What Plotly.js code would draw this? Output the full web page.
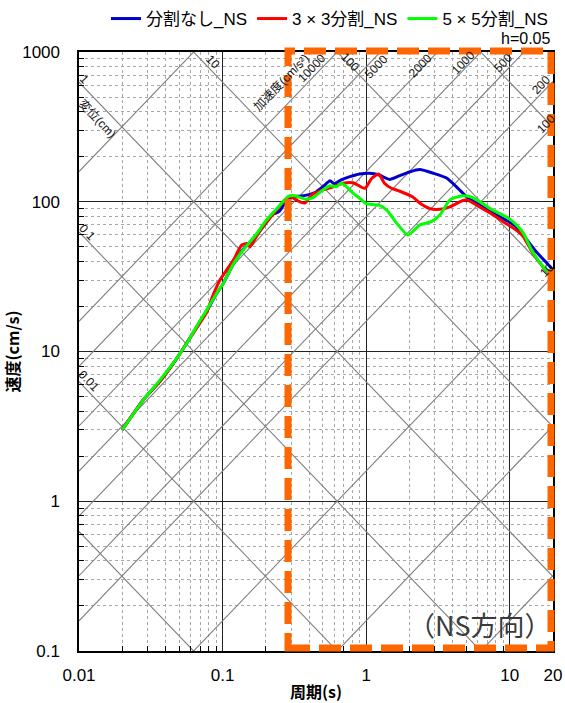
<!DOCTYPE html>
<html><head><meta charset="utf-8">
<script src="https://cdn.plot.ly/plotly-3.0.1.min.js"></script>
<style>html,body{margin:0;padding:0;background:#fff}</style>
</head><body><div id="chart" style="width:565px;height:703px"></div>
<script>
// ---- data ----
const seriesNames = ['分割なし_NS', '3 × 3分割_NS', '5 × 5分割_NS'];
const seriesColors = ['#0000CC', '#FF0000', '#00FF00'];

const periodNone = [0.02,0.028,0.037,0.048,0.056,0.068,0.078,0.09,0.1,0.12,0.136,0.15,0.165,0.18,0.2,0.22,0.235,0.25,0.27,0.29,0.31,0.345,0.405,0.44,0.5,0.56,0.6,0.67,0.77,0.9,1.05,1.23,1.45,1.7,2.0,2.36,2.94,3.63,4.36,5.0,5.86,7.3,9.5,11.1,13.1,15.4,18.1,20];
const svNone     = [3.0,4.74,6.4,9.0,11.3,15.3,18.8,24,28,39,47,52,56,63,72,82,84,87,97,104,108,109,112,115,126,138,132,140,147,153,155,151,141,149,158,164,155,144,123,108,98,86,75,68,56,46,39,35];

const period3x3 = [0.02,0.028,0.037,0.048,0.056,0.068,0.078,0.084,0.096,0.119,0.136,0.148,0.155,0.177,0.208,0.238,0.265,0.295,0.345,0.375,0.416,0.5,0.59,0.69,0.81,0.98,1.09,1.22,1.34,1.5,1.7,2.1,2.36,2.77,3.26,3.83,4.5,5.0,5.86,7.3,9.0,11.1,12.4,14.5,17,20];
const sv3x3     = [3.0,4.74,6.4,9.0,11.3,15.0,18.5,22.6,30,40.8,51.4,52.7,50,61.5,75.5,88,100,108,100,98,111,120,126,133,134,123,143,153,133,123,118,108,98,90,89,92.5,100,103,95,84,73.6,64.7,58.6,45.3,36.8,31];

const period5x5 = [0.02,0.028,0.0367,0.0479,0.0562,0.0678,0.0775,0.091,0.1,0.12,0.139,0.17,0.202,0.251,0.284,0.31,0.345,0.38,0.43,0.5,0.56,0.62,0.67,0.73,0.81,0.93,1.0,1.23,1.39,1.63,1.96,2.36,2.84,3.26,3.83,4.5,5.3,6.2,7.6,9.5,10.8,12.4,14.2,16.3,20];
const sv5x5     = [3.0,4.74,6.46,9.0,11.3,15.4,18.9,24.5,28,39,47.6,60,75.5,95,108,110,107,104,107,120,128,126,133,126,114,103,97,95,88,72,60,70,73.6,81.5,103,109,108,100,88,79,72,62,47.6,38.9,31];

const xTickVals = [0.01, 0.1, 1, 10, 20];
const xTickText = ['0.01', '0.1', '1', '10', '20'];
const yTickVals = [0.1, 1, 10, 100, 1000];
const yTickText = ['0.1', '1', '10', '100', '1000'];

// tripartite guide lines
const accelLines = [0.1, 1, 10, 100, 200, 500, 1000, 2000, 5000, 10000, 100000]; // cm/s^2
const dispLines  = [0.001, 0.01, 0.1, 1, 10, 100, 1000];                      // cm
const periodSpan = [0.01, 20];

// ---- build ----
const TWO_PI = 2 * Math.PI;
const traces = [];
const guide = {color: '#7E7E7E', width: 1.1};
accelLines.forEach(a => traces.push({x: periodSpan, y: periodSpan.map(t => a * t / TWO_PI), mode: 'lines', line: guide, showlegend: false, hoverinfo: 'skip'}));
dispLines.forEach(d => traces.push({x: periodSpan, y: periodSpan.map(t => TWO_PI * d / t), mode: 'lines', line: guide, showlegend: false, hoverinfo: 'skip'}));

const seriesX = [periodNone, period3x3, period5x5];
const seriesY = [svNone, sv3x3, sv5x5];
seriesNames.forEach((n, i) => traces.push({x: seriesX[i], y: seriesY[i], name: n, mode: 'lines', line: {color: seriesColors[i], width: 3, shape: 'spline', smoothing: 0.6}}));

function minorVals(lo, hi) { const v = []; for (let e = lo; e < hi; e++) for (let m = 2; m <= 9; m++) v.push(m * Math.pow(10, e)); return v; }

const plotL = 79, plotR = 553, plotT = 52, plotB = 651;
const px = x => (x - plotL) / (plotR - plotL);
const py = y => (plotB - y) / (plotB - plotT);

const FONT = 'Liberation Sans, Arial, Noto Sans CJK JP, sans-serif';
const JFONT = 'Noto Sans CJK JP, Liberation Sans, sans-serif';

function lab(text, x, y, angle) {
  return {text: text, xref: 'paper', yref: 'paper', x: px(x), y: py(y), showarrow: false, textangle: angle, font: {family: FONT, size: 12, color: '#111'}, xanchor: 'center', yanchor: 'middle'};
}
const annotations = [
  lab('10', 213, 62, 46), lab('100', 350, 62, 46), lab('1', 84, 79, 46), lab('変位(cm)', 98, 118, 46), lab('0.1', 87, 232, 46), lab('0.01', 89, 381, 46),
  lab('加速度(cm/s²)', 281, 83, -46), lab('10000', 312, 68, -46), lab('5000', 376, 67, -46), lab('2000', 420, 66, -46), lab('1000', 463, 63, -46), lab('500', 503, 63, -46),
  lab('200', 541, 85, -46), lab('100', 546, 124, -46), lab('10', 547, 270, -46),
  {text: 'h=0.05', xref: 'paper', yref: 'paper', x: px(552), y: py(38), xanchor: 'right', yanchor: 'middle', showarrow: false, font: {family: FONT, size: 16, color: '#000'}},
  {text: '（NS方向）', xref: 'paper', yref: 'paper', x: px(480), y: py(624), xanchor: 'center', yanchor: 'middle', showarrow: false, font: {family: JFONT, size: 27, color: '#3a3a3a'}}
];

const layout = {
  width: 565, height: 703,
  margin: {l: plotL, r: 565 - plotR, t: plotT, b: 703 - plotB, autoexpand: false},
  paper_bgcolor: '#fff', plot_bgcolor: '#fff',
  font: {family: FONT, size: 17, color: '#000'},
  showlegend: true,
  legend: {orientation: 'h', x: px(553), xanchor: 'right', y: py(1), yanchor: 'top', font: {size: 17, family: FONT}, bgcolor: 'rgba(0,0,0,0)', traceorder: 'normal', itemwidth: 30, tracegroupgap: 0},
  xaxis: {
    type: 'log', range: [Math.log10(0.01), Math.log10(20)], tickmode: 'array', tickvals: xTickVals, ticktext: xTickText,
    showgrid: true, gridcolor: '#222', gridwidth: 1.3, zeroline: false,
    showline: true, mirror: true, linecolor: '#000', linewidth: 1.6, ticks: '', ticklabelstandoff: 8,
    minor: {tickmode: 'array', tickvals: minorVals(-2, 2), showgrid: true, gridcolor: '#A8A8A8', gridwidth: 1, griddash: 'dot', ticks: 'inside', ticklen: 5, tickcolor: '#000', tickwidth: 1},
    title: {text: '<b>周期(s)</b>', font: {family: JFONT, size: 16}, standoff: 6}
  },
  yaxis: {
    type: 'log', range: [-1, 3], tickmode: 'array', tickvals: yTickVals, ticktext: yTickText,
    showgrid: true, gridcolor: '#222', gridwidth: 1.3, zeroline: false,
    showline: true, mirror: true, linecolor: '#000', linewidth: 1.6, ticks: '', ticklabelstandoff: 14,
    minor: {tickmode: 'array', tickvals: minorVals(-1, 3), showgrid: true, gridcolor: '#A8A8A8', gridwidth: 1, griddash: 'dot', ticks: 'inside', ticklen: 5, tickcolor: '#000', tickwidth: 1},
    title: {text: '<b>速度(cm/s)</b>', font: {family: JFONT, size: 16}, standoff: 6}
  },
  shapes: [{type: 'rect', xref: 'paper', yref: 'paper', x0: px(288), x1: px(551), y0: py(648), y1: py(51), layer: 'above', line: {color: '#FF6600', width: 7, dash: '22px,9px'}, fillcolor: 'rgba(0,0,0,0)'}],
  annotations: annotations
};

Plotly.newPlot('chart', traces, layout, {displayModeBar: false, staticPlot: true});
</script></body></html>
